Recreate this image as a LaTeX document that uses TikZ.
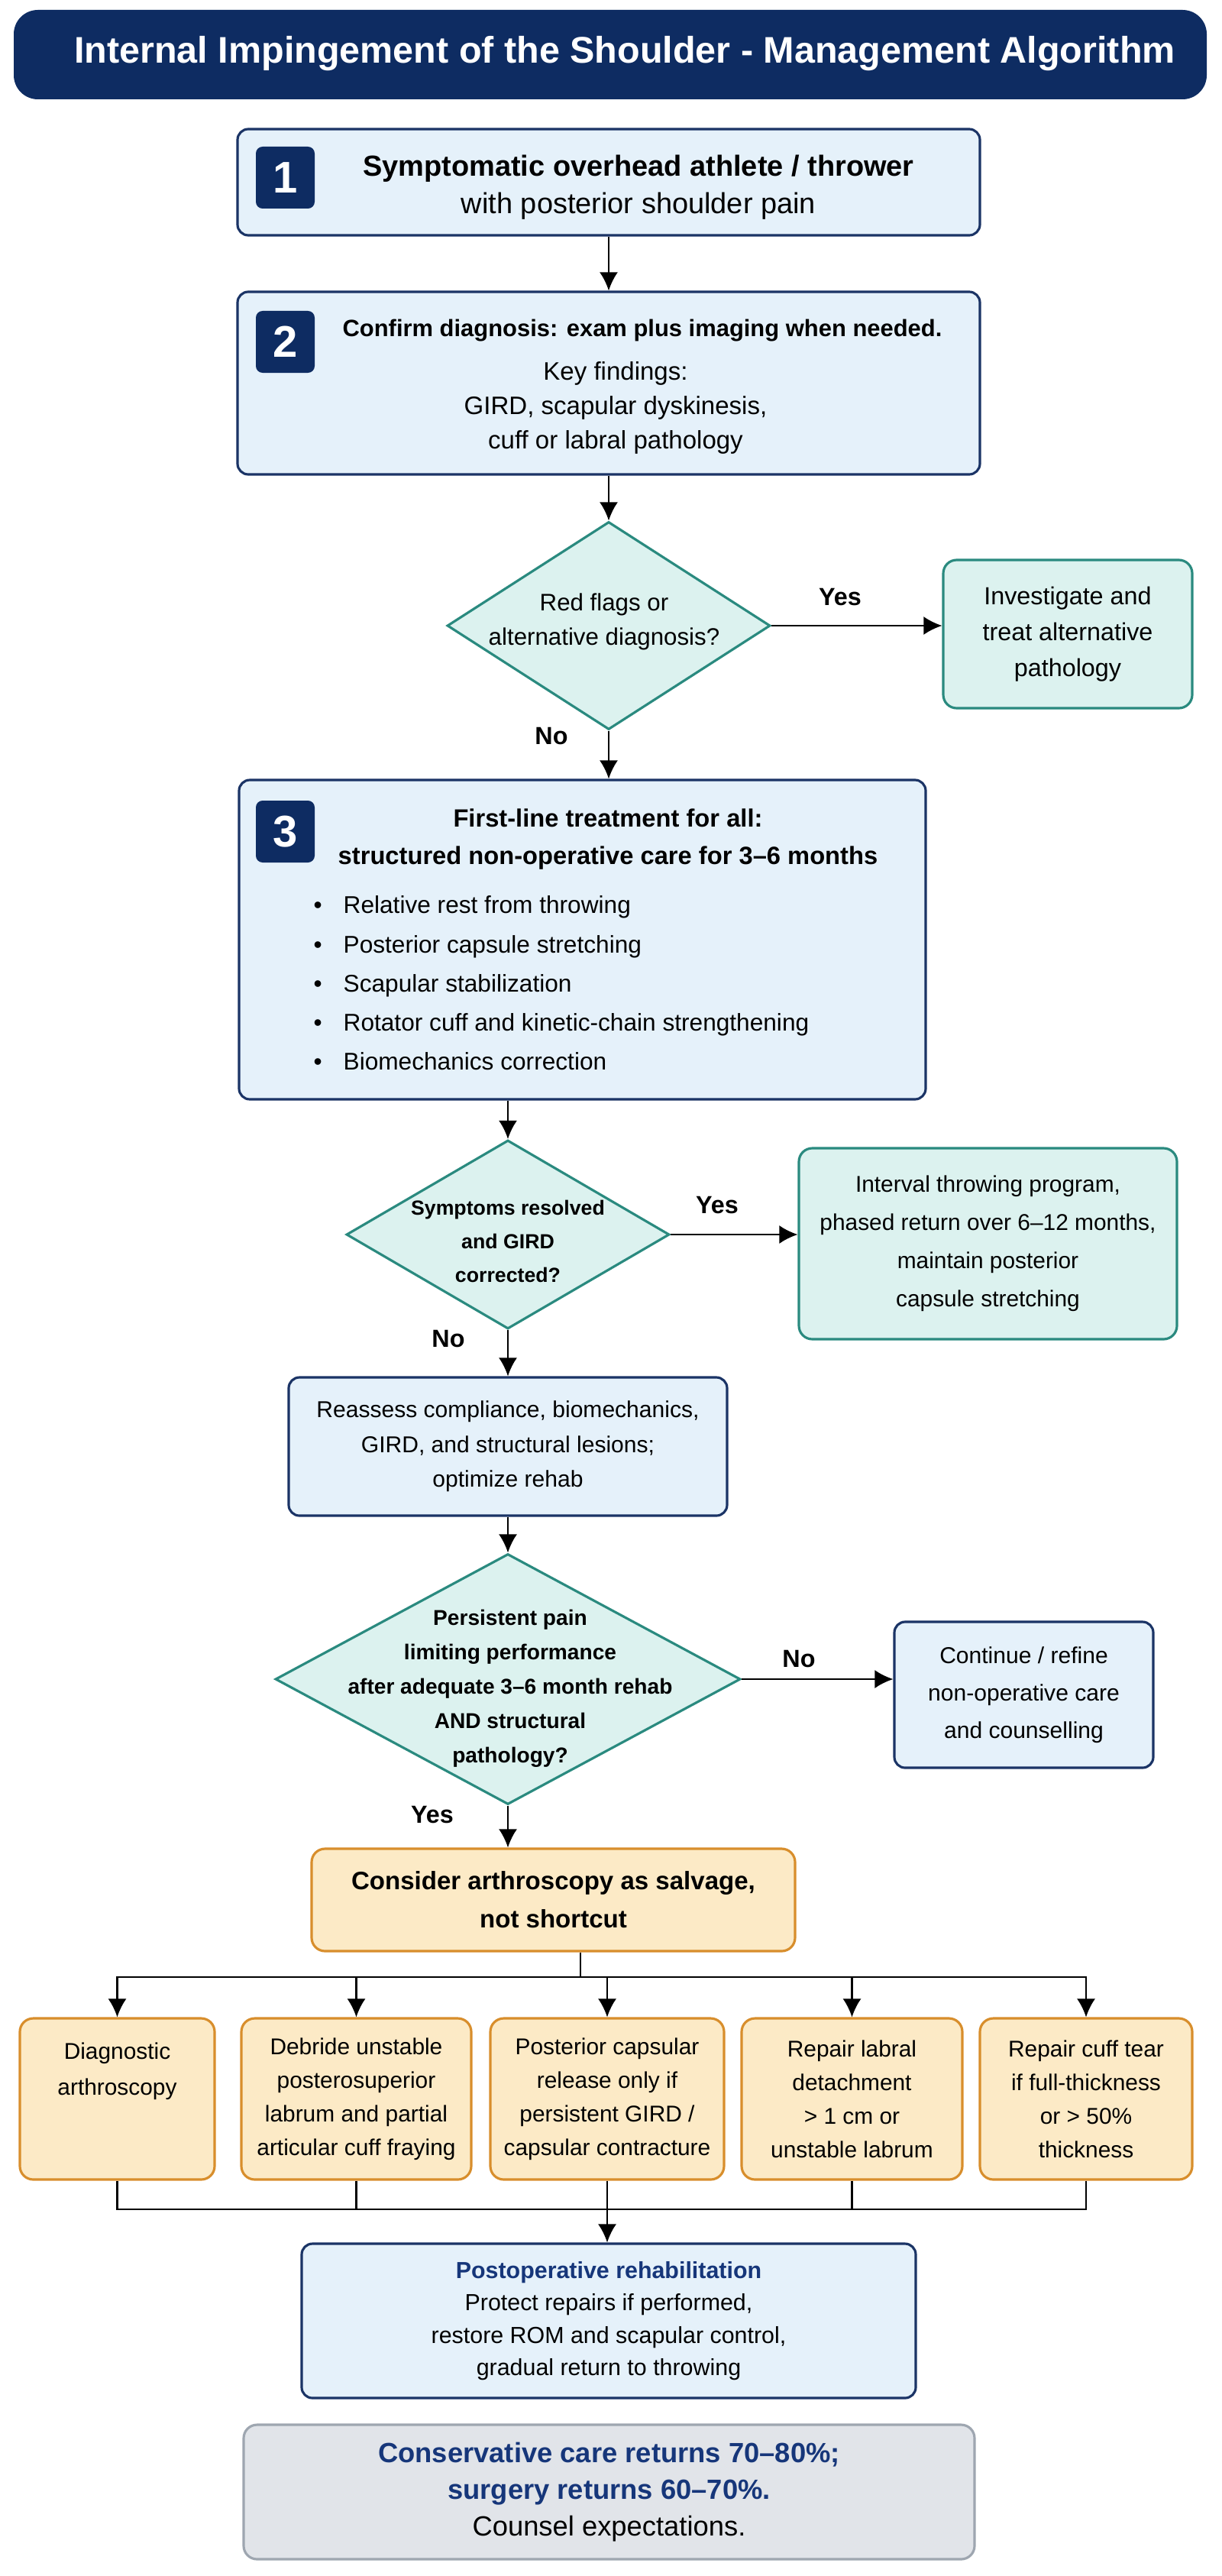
\documentclass[tikz,border=0pt]{standalone}
\usepackage{fontspec}
\setmainfont{Liberation Sans}
\usepackage{xcolor}
\usepackage{tkz-euclide}
\usetikzlibrary{arrows.meta,shapes.geometric}

\definecolor{marino}{HTML}{0E2C62}
\definecolor{azulborde}{HTML}{1B3466}
\definecolor{azulfondo}{HTML}{E5F1FA}
\definecolor{azultitulo}{HTML}{16367A}
\definecolor{tealborde}{HTML}{2A8A7F}
\definecolor{tealfondo}{HTML}{DCF2EF}
\definecolor{naranjaborde}{HTML}{D88E2C}
\definecolor{naranjafondo}{HTML}{FCEAC6}
\definecolor{grisborde}{HTML}{9EA6B0}
\definecolor{grisfondo}{HTML}{E1E4E9}

\tikzset{
  barra/.style={fill=marino, rounded corners=9pt, minimum width=15.62cm, minimum height=1.17cm, inner sep=0pt},
  caja/.style={draw=azulborde, fill=azulfondo, line width=0.9pt, rounded corners=4pt, inner sep=0pt, align=center},
  cajateal/.style={draw=tealborde, fill=tealfondo, line width=0.9pt, rounded corners=5pt, inner sep=0pt, align=center},
  cajanaranja/.style={draw=naranjaborde, fill=naranjafondo, line width=0.9pt, rounded corners=5pt, inner sep=0pt, align=center},
  cajagris/.style={draw=grisborde, fill=grisfondo, line width=0.9pt, rounded corners=5pt, inner sep=0pt, align=center},
  rombo/.style={diamond, draw=tealborde, fill=tealfondo, line width=0.9pt, inner sep=0pt},
  insignia/.style={fill=marino, rounded corners=2.5pt, minimum width=0.77cm, minimum height=0.81cm, inner sep=0pt, text=white, font=\fontsize{16.5}{16.5}\selectfont\bfseries},
  texto/.style={align=center, inner sep=0pt},
  etiqueta/.style={inner sep=0pt, font=\fontsize{9.2}{11}\selectfont\bfseries},
  flecha/.style={-{Latex[length=2.4mm,width=2.4mm]}, line width=0.7pt},
  linea/.style={line width=0.7pt},
}

\begin{document}
\begin{tikzpicture}
        \useasboundingbox (0,0) rectangle (16,-33.72);

        % Paso 1: Define los puntos centrales de cada elemento.
        \tkzDefPoint(7.99,-0.715){T}
        \tkzDefPoint(7.97,-2.385){A}
        \tkzDefPoint(7.97,-5.015){B}
        \tkzDefPoint(7.97,-8.19){C}
        \tkzDefPoint(13.98,-8.30){D}
        \tkzDefPoint(7.625,-12.30){E}
        \tkzDefPoint(6.65,-16.16){F}
        \tkzDefPoint(12.935,-16.28){G}
        \tkzDefPoint(6.65,-18.935){H}
        \tkzDefPoint(6.65,-21.98){I}
        \tkzDefPoint(13.405,-22.185){J}
        \tkzDefPoint(7.245,-24.87){K}
        \tkzDefPoint(1.535,-27.475){L1}
        \tkzDefPoint(4.665,-27.475){L2}
        \tkzDefPoint(7.95,-27.475){L3}
        \tkzDefPoint(11.155,-27.475){L4}
        \tkzDefPoint(14.22,-27.475){L5}
        \tkzDefPoint(7.97,-30.38){M}
        \tkzDefPoint(7.975,-32.62){N}

        % Paso 2: Define los puntos de los buses de conexión.
        \tkzDefPoint(7.60,-25.88){R}
        \tkzDefPoint(7.95,-28.92){S}

        % Paso 3: Dibuja la barra del título
        \node[barra] (barra) at (T) {};
        \node[texto, text=white, font=\fontsize{13.8}{15}\selectfont\bfseries] (titulo) at (8.18,-0.70) {Internal Impingement of the Shoulder - Management Algorithm};

        % Paso 4: Caja 1 con su número
        \node[caja, minimum width=9.72cm, minimum height=1.39cm] (paso1) at (A) {};
        \node[insignia] (n1) at (3.735,-2.325) {1};
        \node[texto, font=\fontsize{10.8}{13.9}\selectfont] (t1) at (8.36,-2.455) {\textbf{Symptomatic overhead athlete / thrower}\\with posterior shoulder pain};

        % Paso 5: Caja 2 con su número
        \node[caja, minimum width=9.72cm, minimum height=2.39cm] (paso2) at (B) {};
        \node[insignia] (n2) at (3.735,-4.475) {2};
        \node[texto, font=\fontsize{8.8}{11}\selectfont\bfseries] (t2a) at (8.41,-4.33) {Confirm diagnosis: exam plus imaging when needed.};
        \node[texto, font=\fontsize{9.4}{12.9}\selectfont] (t2b) at (8.06,-5.34) {Key findings:\\GIRD, scapular dyskinesis,\\cuff or labral pathology};

        % Paso 6: Primer rombo y caja de patología alternativa
        \node[rombo, minimum width=4.23cm, minimum height=2.72cm] (rombo1) at (C) {};
        \node[texto, font=\fontsize{8.9}{13}\selectfont] (t3) at (7.91,-8.14) {Red flags or\\alternative diagnosis?};
        \node[cajateal, minimum width=3.26cm, minimum height=1.94cm, font=\fontsize{9.2}{13.3}\selectfont] (alterna) at (D) {Investigate and\\treat alternative\\pathology};

        % Paso 7: Caja 3 con tratamiento de primera línea
        \node[caja, minimum width=8.99cm, minimum height=4.18cm] (paso3) at (E) {};
        \node[insignia] (n3) at (3.735,-10.885) {3};
        \node[texto, font=\fontsize{9.3}{13.9}\selectfont\bfseries] (t4) at (7.96,-10.985) {First-line treatment for all:\\structured non-operative care for 3–6 months};
        \node[texto, align=left, anchor=west, font=\fontsize{9}{14.6}\selectfont] (t5) at (4.10,-12.87) {\makebox[0.39cm][l]{\textbullet}Relative rest from throwing\\\makebox[0.39cm][l]{\textbullet}Posterior capsule stretching\\\makebox[0.39cm][l]{\textbullet}Scapular stabilization\\\makebox[0.39cm][l]{\textbullet}Rotator cuff and kinetic-chain strengthening\\\makebox[0.39cm][l]{\textbullet}Biomechanics correction};

        % Paso 8: Segundo rombo, programa de lanzamiento y reevaluación
        \node[rombo, minimum width=4.23cm, minimum height=2.47cm] (rombo2) at (F) {};
        \node[texto, font=\fontsize{7.6}{12.6}\selectfont\bfseries] (t6) at (6.65,-16.25) {Symptoms resolved\\and GIRD\\corrected?};
        \node[cajateal, minimum width=4.95cm, minimum height=2.50cm, font=\fontsize{8.5}{14.2}\selectfont] (intervalo) at (G) {Interval throwing program,\\phased return over 6–12 months,\\maintain posterior\\capsule stretching};
        \node[caja, minimum width=5.74cm, minimum height=1.81cm, font=\fontsize{8.55}{13}\selectfont] (reevaluar) at (H) {Reassess compliance, biomechanics,\\GIRD, and structural lesions;\\optimize rehab};

        % Paso 9: Tercer rombo y caja de continuar
        \node[rombo, minimum width=6.09cm, minimum height=3.28cm] (rombo3) at (I) {};
        \node[texto, font=\fontsize{8}{12.8}\selectfont\bfseries] (t7) at (6.68,-22.10) {Persistent pain\\limiting performance\\after adequate 3–6 month rehab\\AND structural\\pathology?};
        \node[caja, minimum width=3.39cm, minimum height=1.91cm, font=\fontsize{8.55}{13.9}\selectfont] (continuar) at (J) {Continue / refine\\non-operative care\\and counselling};

        % Paso 10: Caja de artroscopia y sus cinco opciones
        \node[cajanaranja, minimum width=6.33cm, minimum height=1.34cm, font=\fontsize{9.4}{14.2}\selectfont\bfseries] (artro) at (K) {Consider arthroscopy as salvage,\\not shortcut};
        \node[cajanaranja, minimum width=2.55cm, minimum height=2.11cm] (op1) at (L1) {};
        \node[texto, font=\fontsize{8.5}{13.3}\selectfont] (t8) at (1.535,-27.115) {Diagnostic\\arthroscopy};
        \node[cajanaranja, minimum width=3.01cm, minimum height=2.11cm, font=\fontsize{8.5}{12.5}\selectfont] (op2) at (L2) {Debride unstable\\posterosuperior\\labrum and partial\\articular cuff fraying};
        \node[cajanaranja, minimum width=3.06cm, minimum height=2.11cm, font=\fontsize{8.5}{12.5}\selectfont] (op3) at (L3) {Posterior capsular\\release only if\\persistent GIRD /\\capsular contracture};
        \node[cajanaranja, minimum width=2.89cm, minimum height=2.11cm, font=\fontsize{8.5}{12.5}\selectfont] (op4) at (L4) {Repair labral\\detachment\\> 1 cm or\\unstable labrum};
        \node[cajanaranja, minimum width=2.78cm, minimum height=2.11cm, font=\fontsize{8.5}{12.5}\selectfont] (op5) at (L5) {Repair cuff tear\\if full-thickness\\or > 50\%\\thickness};

        % Paso 11: Rehabilitación postoperatoria y caja final
        \node[caja, minimum width=8.04cm, minimum height=2.02cm, font=\fontsize{8.65}{12.1}\selectfont] (postop) at (M) {\textcolor{azultitulo}{\bfseries Postoperative rehabilitation}\\Protect repairs if performed,\\restore ROM and scapular control,\\gradual return to throwing};
        \node[cajagris, minimum width=9.57cm, minimum height=1.76cm, font=\fontsize{10.35}{13.6}\selectfont] (final) at (N) {\textcolor{azultitulo}{\bfseries Conservative care returns 70–80\%;}\\\textcolor{azultitulo}{\bfseries surgery returns 60–70\%.}\\Counsel expectations.};

        % Paso 12: Etiquetas Yes / No
        \node[etiqueta] (si1) at (11.0,-7.82) {Yes};
        \node[etiqueta] (no1) at (7.22,-9.64) {No};
        \node[etiqueta] (si2) at (9.39,-15.78) {Yes};
        \node[etiqueta] (no2) at (5.87,-17.53) {No};
        \node[etiqueta] (no3) at (10.46,-21.72) {No};
        \node[etiqueta] (si3) at (5.66,-23.76) {Yes};

        % Paso 13: Dibuja las flechas principales
        \draw[flecha] (paso1) -- (paso2);
        \draw[flecha] (paso2) -- (rombo1);
        \draw[flecha] (rombo1.east) -- (rombo1.east -| alterna.west);
        \draw[flecha] (rombo1.south) -- (rombo1.south |- paso3.north);
        \draw[flecha] (rombo2 |- paso3.south) -- (rombo2.north);
        \draw[flecha] (rombo2.east) -- (rombo2.east -| intervalo.west);
        \draw[flecha] (rombo2) -- (reevaluar);
        \draw[flecha] (reevaluar) -- (rombo3);
        \draw[flecha] (rombo3.east) -- (rombo3.east -| continuar.west);
        \draw[flecha] (rombo3.south) -- (rombo3.south |- artro.north);

        % Paso 14: Dibuja el bus hacia las cinco opciones
        \draw[linea] (R |- artro.south) -- (R);
        \draw[flecha] (R) -| (op1.north);
        \draw[flecha] (R) -| (op2.north);
        \draw[flecha] (R) -| (op3.north);
        \draw[flecha] (R) -| (op4.north);
        \draw[flecha] (R) -| (op5.north);

        % Paso 15: Dibuja el bus de regreso a la rehabilitación
        \draw[linea] (op1.south) |- (S);
        \draw[linea] (op2.south) |- (S);
        \draw[linea] (op3.south) |- (S);
        \draw[linea] (op4.south) |- (S);
        \draw[linea] (op5.south) |- (S);
        \draw[flecha] (S) -- (S |- postop.north);
    \end{tikzpicture}
\end{document}
